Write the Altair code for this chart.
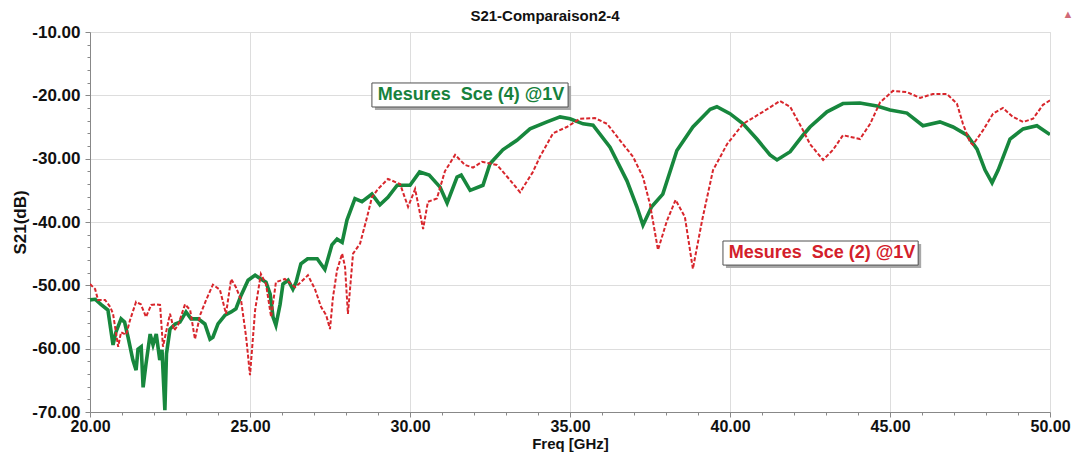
import altair as alt
import pandas as pd

# ---- data ----
green_f = [20.0, 20.16, 20.34, 20.56, 20.72, 20.81, 20.97, 21.08, 21.19, 21.34, 21.44, 21.5, 21.6, 21.66,
           21.75, 21.88, 21.97, 22.07, 22.18, 22.25, 22.34, 22.39, 22.5, 22.66, 22.81, 23.0, 23.16, 23.38,
           23.59, 23.75, 23.84, 24.0, 24.22, 24.41, 24.56, 24.72, 24.94, 25.16, 25.34, 25.5, 25.63, 25.72,
           25.81, 25.94, 26.03, 26.19, 26.34, 26.44, 26.59, 26.8, 27.1, 27.34, 27.56, 27.72, 27.88, 28.03,
           28.28, 28.5, 28.81, 29.06, 29.31, 29.6, 30.0, 30.3, 30.6, 30.94, 31.16, 31.47, 31.6, 31.88,
           32.28, 32.5, 32.9, 33.34, 33.75, 34.28, 34.69, 35.0, 35.41, 35.72, 36.25, 36.78, 37.09, 37.28,
           37.55, 37.9, 38.34, 38.84, 39.38, 39.59, 40.0, 40.41, 40.84, 41.25, 41.47, 41.88, 42.28, 42.5,
           43.03, 43.53, 44.06, 44.59, 45.0, 45.53, 46.03, 46.56, 46.97, 47.41, 47.72, 47.97, 48.19, 48.38,
           48.75, 49.16, 49.59, 50.0]
green_db = [-52.3, -52.2, -53.0, -53.9, -59.4, -57.4, -55.3, -55.8, -58.2, -61.8, -63.4, -60.1, -59.7, -66.1,
            -62.4, -57.7, -59.4, -57.7, -61.8, -60.2, -69.7, -60.8, -56.9, -56.1, -55.8, -54.2, -55.3, -55.3,
            -56.1, -58.5, -58.2, -56.1, -54.7, -54.2, -53.7, -51.6, -49.2, -48.4, -49.0, -49.5, -51.4, -55.0,
            -56.3, -53.0, -49.8, -49.2, -50.6, -49.5, -46.6, -45.8, -45.8, -47.5, -43.6, -42.7, -43.2, -39.7,
            -36.3, -36.8, -35.6, -37.3, -36.1, -34.2, -34.2, -32.1, -32.6, -34.5, -37.0, -32.9, -32.6, -35.0,
            -34.2, -30.8, -28.6, -27.1, -25.3, -24.2, -23.4, -23.7, -24.5, -24.7, -28.2, -33.5, -37.6, -40.5,
            -37.6, -35.6, -28.7, -25.0, -22.2, -21.8, -22.9, -24.5, -26.9, -29.4, -30.2, -28.9, -26.3, -25.0,
            -22.6, -21.3, -21.2, -21.7, -22.3, -22.8, -24.8, -24.2, -25.0, -26.3, -28.5, -31.8, -33.8, -31.8,
            -26.9, -25.3, -24.8, -26.2]

red_f = [20.0, 20.16, 20.25, 20.47, 20.63, 20.72, 20.88, 20.97, 21.13, 21.25, 21.44, 21.59, 21.75, 21.91,
         22.06, 22.19, 22.28, 22.5, 22.63, 22.75, 22.97, 23.13, 23.28, 23.44, 23.63, 23.84, 24.06, 24.25,
         24.41, 24.56, 24.72, 24.88, 25.0, 25.16, 25.34, 25.5, 25.66, 25.81, 26.09, 26.41, 26.59, 26.81,
         27.03, 27.22, 27.38, 27.5, 27.59, 27.72, 27.88, 27.97, 28.06, 28.22, 28.44, 28.66, 28.81, 29.0,
         29.31, 29.69, 29.94, 30.16, 30.41, 30.56, 30.84, 31.09, 31.41, 31.72, 31.97, 32.25, 32.72, 33.13,
         33.44, 33.84, 34.06, 34.47, 34.9, 35.31, 35.78, 36.16, 36.56, 36.97, 37.28, 37.5, 37.75, 38.03,
         38.3, 38.59, 38.84, 39.13, 39.47, 39.91, 40.41, 41.03, 41.56, 41.88, 42.28, 42.5, 42.91, 43.22,
         43.53, 44.06, 44.38, 44.69, 45.09, 45.53, 45.94, 46.34, 46.78, 47.09, 47.28, 47.5, 47.59, 47.91,
         48.22, 48.53, 48.84, 49.16, 49.47, 49.78, 50.0]
red_db = [-49.8, -50.6, -52.3, -52.3, -53.4, -54.5, -59.7, -57.4, -57.8, -55.5, -52.6, -53.0, -55.0, -53.1,
          -53.0, -53.1, -59.7, -54.5, -57.1, -56.3, -53.0, -53.9, -58.5, -54.7, -52.3, -49.9, -50.7, -54.5,
          -49.0, -50.3, -52.3, -58.2, -64.2, -53.9, -48.2, -49.8, -55.0, -49.5, -49.0, -50.3, -49.5, -48.4,
          -50.6, -53.4, -54.7, -56.9, -52.0, -47.6, -45.0, -47.1, -54.5, -45.0, -43.4, -39.2, -36.1, -34.8,
          -33.2, -34.0, -37.6, -34.8, -41.1, -36.8, -36.3, -32.0, -29.4, -31.0, -31.4, -30.5, -31.0, -33.4,
          -35.3, -32.1, -29.7, -26.0, -25.0, -23.7, -23.6, -24.5, -27.1, -29.7, -32.9, -37.2, -44.4, -39.8,
          -36.5, -39.2, -47.4, -39.7, -31.8, -27.7, -24.5, -22.6, -20.9, -21.8, -25.5, -27.7, -30.2, -28.6,
          -26.3, -26.9, -24.5, -21.1, -19.3, -19.5, -20.4, -19.8, -19.8, -21.3, -24.5, -27.4, -27.8, -25.5,
          -22.9, -22.0, -23.4, -24.2, -23.7, -21.5, -20.8]

label_text = ["Mesures \u00a0Sce (4) @1V", "Mesures \u00a0Sce (2) @1V"]
label_x0 = [28.81, 39.78]
label_x1 = [34.94, 45.88]
label_ytop = [-18.05, -43.0]
label_ybot = [-21.84, -46.8]
label_tx = [28.99, 39.96]
label_ty = [-19.95, -44.9]
label_color = ["#17813c", "#d3202b"]

chart_title = "S21-Comparaison2-4"
x_title = "Freq [GHz]"
y_title = "S21(dB)"

x_ticks = list(range(20, 51))
y_ticks = list(range(-70, -9, 2))

GREEN = "#17873d"
RED = "#d8262c"
FONT = "Liberation Sans"

df_g = pd.DataFrame({"f": green_f, "db": green_db})
df_r = pd.DataFrame({"f": red_f, "db": red_db})
df_lab = pd.DataFrame({"t": label_text, "x0": label_x0, "x1": label_x1, "yt": label_ytop,
                       "yb": label_ybot, "tx": label_tx, "ty": label_ty, "c": label_color})

xs = alt.Scale(domain=[20, 50], nice=False, zero=False)
ys = alt.Scale(domain=[-70, -10], nice=False, zero=False)

xaxis = alt.Axis(
    values=x_ticks,
    labelExpr="datum.value % 5 === 0 ? format(datum.value, '.2f') : ''",
    tickSize={"condition": {"test": "datum.value % 5 === 0", "value": 5}, "value": 3},
    gridOpacity={"condition": {"test": "datum.value % 5 === 0", "value": 1}, "value": 0},
    labelFont=FONT, labelFontSize=16, labelFontWeight="bold", labelColor="#111111",
    labelPadding=1, labelOverlap=False, labelFlush=False,
    titleFont=FONT, titleFontSize=15, titleFontWeight="bold", titleColor="#111111",
    titleX=480, titleY=31, titleBaseline="middle", titleAlign="center",
)
yaxis = alt.Axis(
    values=y_ticks,
    labelExpr="datum.value % 10 === 0 ? (datum.value < 0 ? '-' : '') + format(abs(datum.value), '.2f') : ''",
    tickSize={"condition": {"test": "datum.value % 10 === 0", "value": 5}, "value": 3},
    gridOpacity={"condition": {"test": "datum.value % 10 === 0", "value": 1}, "value": 0},
    labelFont=FONT, labelFontSize=17, labelFontWeight="bold", labelColor="#111111",
    labelPadding=5, labelOverlap=False, labelFlush=False,
    titleFont=FONT, titleFontSize=17, titleFontWeight="bold", titleColor="#111111",
    titleX=-70, titleY=190, titleAngle=-90, titleBaseline="middle", titleAlign="center",
)


def X(field):
    return alt.X(field, type="quantitative", scale=xs, axis=xaxis, title=x_title)


def Y(field):
    return alt.Y(field, type="quantitative", scale=ys, axis=yaxis, title=y_title)


green_line = alt.Chart(df_g).mark_line(color=GREEN, strokeWidth=3.6, clip=True).encode(
    x=X("f"), y=Y("db"))
red_line = alt.Chart(df_r).mark_line(color=RED, strokeWidth=2, strokeDash=[4, 2], clip=True).encode(
    x=X("f"), y=Y("db"))

shadow = alt.Chart(df_lab).mark_rect(fill="#a8a8a8", xOffset=3, x2Offset=3, yOffset=3, y2Offset=3).encode(
    x=X("x0"), x2="x1", y=Y("yt"), y2="yb")
box = alt.Chart(df_lab).mark_rect(fill="white", stroke="#505050", strokeWidth=1).encode(
    x=X("x0"), x2="x1", y=Y("yt"), y2="yb")
labels = alt.Chart(df_lab).mark_text(font=FONT, fontSize=18, fontWeight="bold", align="left",
                                     baseline="middle").encode(
    x=X("tx"), y=Y("ty"), text="t:N", color=alt.Color("c:N", scale=None))

one = pd.DataFrame({"k": [0]})
title_mark = alt.Chart(one).mark_text(text=chart_title, font=FONT, fontSize=15, fontWeight="bold",
                                      color="#111111", baseline="middle", align="center").encode(
    x=alt.value(455), y=alt.value(-16))
icon = alt.Chart(one).mark_text(text="\u25b2", color="#d06a78", fontSize=11, baseline="middle").encode(
    x=alt.value(978), y=alt.value(-17))

chart = alt.layer(green_line, red_line, shadow, box, labels, title_mark, icon).properties(
    width=960, height=380,
    autosize=alt.AutoSizeParams(type="none"),
    padding={"left": 82, "top": 24, "right": 22, "bottom": 41},
).configure_view(stroke="#555555", strokeWidth=1).configure_axis(
    domainColor="#404040", domainWidth=1.5, tickColor="#404040", tickWidth=1,
    gridColor="#d6d6d6", gridWidth=1,
).configure(background="white")

chart.save("out.html", embed_options={"renderer": "svg", "actions": False})
